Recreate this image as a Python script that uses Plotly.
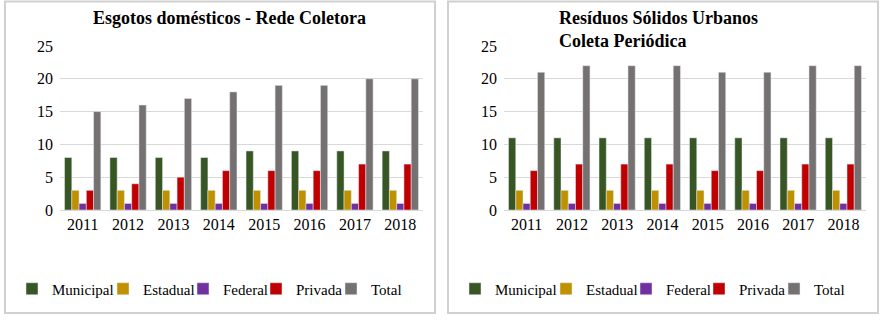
import plotly.graph_objects as go

years = ["2011", "2012", "2013", "2014", "2015", "2016", "2017", "2018"]
series_names = ["Municipal", "Estadual", "Federal", "Privada", "Total"]
colors = ["#375623", "#bf9000", "#7030a0", "#c00000", "#767171"]

esgoto_municipal = [8, 8, 8, 8, 9, 9, 9, 9]
esgoto_estadual = [3, 3, 3, 3, 3, 3, 3, 3]
esgoto_federal = [1, 1, 1, 1, 1, 1, 1, 1]
esgoto_privada = [3, 4, 5, 6, 6, 6, 7, 7]
esgoto_total = [15, 16, 17, 18, 19, 19, 20, 20]

residuos_municipal = [11, 11, 11, 11, 11, 11, 11, 11]
residuos_estadual = [3, 3, 3, 3, 3, 3, 3, 3]
residuos_federal = [1, 1, 1, 1, 1, 1, 1, 1]
residuos_privada = [6, 7, 7, 7, 6, 6, 7, 7]
residuos_total = [21, 22, 22, 22, 21, 21, 22, 22]

left = [esgoto_municipal, esgoto_estadual, esgoto_federal, esgoto_privada, esgoto_total]
right = [residuos_municipal, residuos_estadual, residuos_federal, residuos_privada, residuos_total]

W, H = 889, 322
FONT = "Liberation Serif, Times New Roman, serif"

# legend entry icon left edges (px) within a panel, and panel offsets
legend_icon_left = [34, 125, 205, 278, 353]
panel_offsets = [0, 443]
legend_row_y = 289


def px_x(p):
    return p / W


def px_y(p):
    return 1 - p / H


fig = go.Figure()
legends = {}
n = 0
for panel, (data, xa, ya) in enumerate([(left, "x", "y"), (right, "x2", "y2")]):
    for i, (name, col, vals) in enumerate(zip(series_names, colors, data)):
        n += 1
        lid = "legend" if n == 1 else f"legend{n}"
        fig.add_trace(go.Bar(x=years, y=vals, name=name, marker_color=col,
                             xaxis=xa, yaxis=ya, legend=lid, hoverinfo="x+y+name"))
        lx = legend_icon_left[i] + panel_offsets[panel] - 22
        legends[lid] = dict(orientation="h", x=px_x(lx), y=px_y(legend_row_y),
                            xanchor="left", yanchor="middle", itemwidth=30,
                            font=dict(family=FONT, size=15, color="#000"),
                            bgcolor="rgba(0,0,0,0)")

ydom = [px_y(210), px_y(46)]
axis_common = dict(showgrid=False, showline=True, linecolor="#d9d9d9", linewidth=1,
                   ticks="", tickfont=dict(family=FONT, size=16, color="#000"))
yaxis_common = dict(range=[0, 25], dtick=5, showgrid=True, gridcolor="#d9d9d9", gridwidth=1,
                    zeroline=False, showline=False, ticks="",
                    tickfont=dict(family=FONT, size=16, color="#000"), ticklabelstandoff=6)

fig.update_layout(
    width=W, height=H,
    margin=dict(l=0, r=0, t=0, b=0, autoexpand=False),
    paper_bgcolor="white", plot_bgcolor="white",
    barmode="group", bargap=0.2, bargroupgap=0.0,
    xaxis=dict(domain=[px_x(60), px_x(423)], anchor="y", **axis_common),
    yaxis=dict(domain=ydom, anchor="x", **yaxis_common),
    xaxis2=dict(domain=[px_x(504), px_x(866)], anchor="y2", **axis_common),
    yaxis2=dict(domain=ydom, anchor="x2", **yaxis_common),
    showlegend=True,
    shapes=[
        dict(type="rect", xref="paper", yref="paper", x0=px_x(5), x1=px_x(435),
             y0=px_y(313), y1=px_y(1.5), line=dict(color="#d0d0d0", width=2)),
        dict(type="rect", xref="paper", yref="paper", x0=px_x(448), x1=px_x(878),
             y0=px_y(313), y1=px_y(1.5), line=dict(color="#d0d0d0", width=2)),
    ],
    annotations=[
        dict(text="<b>Esgotos domésticos - Rede Coletora</b>", xref="paper", yref="paper",
             x=px_x(229), y=px_y(18), xanchor="center", yanchor="middle", showarrow=False,
             font=dict(family=FONT, size=18, color="#000")),
        dict(text="<b>Resíduos Sólidos Urbanos<br>Coleta Periódica</b>", xref="paper", yref="paper",
             x=px_x(557), y=px_y(29), xanchor="left", yanchor="middle", align="left",
             showarrow=False, font=dict(family=FONT, size=18, color="#000")),
    ],
)
fig.update_layout(**legends)

fig.write_html("out.html", config={"displayModeBar": False},
               post_script="document.body.style.margin='0';document.body.style.padding='0';")
